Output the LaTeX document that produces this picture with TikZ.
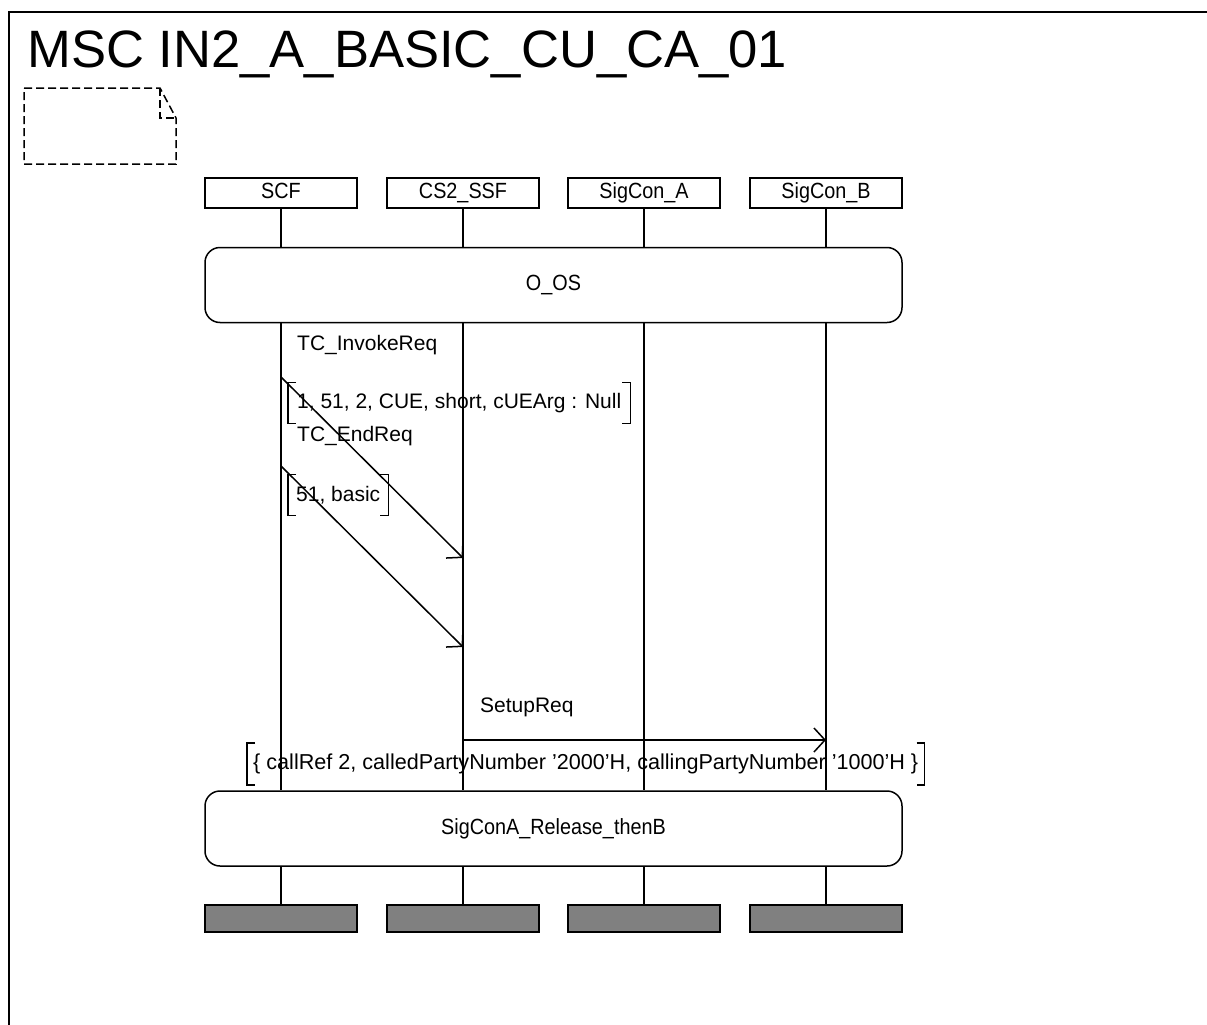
\documentclass[tikz,border=0pt]{standalone}
\usepackage{fontspec}
\setmainfont{Liberation Sans}
\usetikzlibrary{arrows.meta}
\newcommand{\cond}[1]{\scalebox{0.9}[1]{#1}}
\begin{document}
\begin{tikzpicture}[x=1pt,y=-1pt,
  every node/.style={font=\fontsize{21}{25}\selectfont, inner sep=0pt},
  inst/.style={draw, line width=1.5pt, minimum width=152pt, minimum height=30pt, font=\fontsize{22}{26}\selectfont, text height=15pt, text depth=4pt},
  endbox/.style={draw, fill=gray, line width=1.5pt, minimum width=152pt, minimum height=27pt},
  refbox/.style={draw, rounded corners=15pt, line width=1.5pt, minimum width=697pt, minimum height=75pt, font=\fontsize{22}{26}\selectfont},
  life/.style={line width=1.5pt},
  msg/.style={line width=1.5pt, -{Straight Barb[length=11pt,width=24pt,line width=1.5pt]}},
  lbl/.style={anchor=west},
  brk/.style={anchor=west, inner xsep=8pt, minimum height=41pt},
  brkline/.style={line width=1.5pt},
  notebox/.style={line width=1.5pt, dash pattern=on 8pt off 4pt}
]
\useasboundingbox (0,0) rectangle (1207,1025);
\fill[white] (0,0) rectangle (1207,1025);
% frame
\draw[line width=2pt] (9,1025) -- (9,12) -- (1207,12);
\node[anchor=base west, font=\fontsize{52.6}{60}\selectfont] (title) at (27,67) {MSC IN2\_A\_BASIC\_CU\_CA\_01};
% note
\draw[notebox] (24,88) -- (160,88) -- (176,118) -- (176,164) -- (24,164) -- cycle;
\draw[notebox] (160,88) -- (160,118) -- (176,118);
% instances
\node[inst] (h1) at (281,193) {\cond{SCF}};
\node[inst] (h2) at (463,193) {\cond{CS2\_SSF}};
\node[inst] (h3) at (644,193) {\cond{SigCon\_A}};
\node[inst] (h4) at (826,193) {\cond{SigCon\_B}};
\node[refbox] (r1) at (553.5,285) {\cond{O\_OS}};
\node[refbox] (r2) at (553.5,828.5) {\cond{SigConA\_Release\_thenB}};
\node[endbox] (e1) at (281,918.5) {};
\node[endbox] (e2) at (463,918.5) {};
\node[endbox] (e3) at (644,918.5) {};
\node[endbox] (e4) at (826,918.5) {};
\foreach \i in {1,2,3,4}{
  \draw[life] (h\i.south) -- (h\i.south |- r1.north);
  \draw[life] (h\i.south |- r1.south) -- (h\i.south |- r2.north);
  \draw[life] (h\i.south |- r2.south) -- (e\i.north);
}
% messages
\coordinate (m1s) at (281,377);
\coordinate (m1e) at (463,558);
\coordinate (m2s) at (281,466);
\coordinate (m2e) at (463,647);
\coordinate (m3s) at (463,740);
\coordinate (m3e) at (826,740);
\draw[msg] (m1s) -- (m1e);
\draw[msg] (m2s) -- (m2e);
\draw[msg] (m3s) -- (m3e);
\node[lbl] (l1) at (297,345) {TC\_InvokeReq};
\node[lbl] (l2) at (297,436) {TC\_EndReq};
\node[lbl] (l3) at (480,707) {SetupReq};
% parameter brackets
\node[brk, inner xsep=9pt] (p1) at (288,403) {1, 51, 2, CUE, short, cUEArg : Null};
\node[brk] (p2) at (288,495) {51, basic};
\node[brk, minimum height=42pt, inner xsep=6pt, font=\fontsize{21.6}{25}\selectfont] (p3) at (247,764) {\{ callRef 2, calledPartyNumber '2000'H, callingPartyNumber '1000'H \}};
\foreach \p in {p1,p2,p3}{
  \draw[brkline] ([xshift=8pt]\p.north west) -- (\p.north west) -- (\p.south west) -- ([xshift=8pt]\p.south west);
  \draw[brkline] ([xshift=-8pt]\p.north east) -- (\p.north east) -- (\p.south east) -- ([xshift=-8pt]\p.south east);
}
\end{tikzpicture}
\end{document}
